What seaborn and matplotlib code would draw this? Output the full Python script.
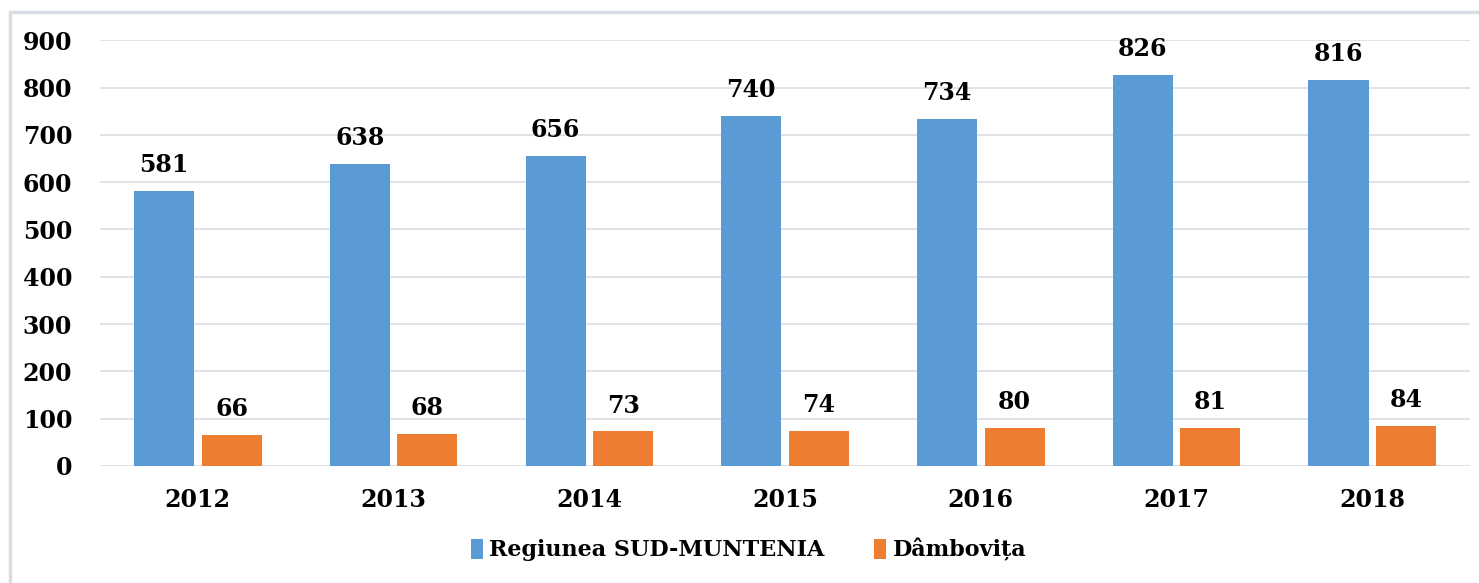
import pandas as pd
import numpy as np
import matplotlib.pyplot as plt
import seaborn as sns
from matplotlib.patches import Rectangle

# =====================================================
# DATA
# =====================================================

years = ["2012", "2013", "2014", "2015", "2016", "2017", "2018"]
sud_muntenia = [581, 638, 656, 740, 734, 826, 816]
dambovita = [66, 68, 73, 74, 80, 81, 84]
series_names = ["Regiunea SUD-MUNTENIA", "Dâmbovița"]

df = pd.DataFrame({
    "An": years * 2,
    "Valoare": sud_muntenia + dambovita,
    "Serie": [series_names[0]] * len(years) + [series_names[1]] * len(years),
})

# =====================================================
# STYLE
# =====================================================

sns.set_style("white")
plt.rcParams['font.family'] = ['DejaVu Serif']
plt.rcParams['font.weight'] = 'bold'
plt.rcParams['text.color'] = 'black'

colors = {series_names[0]: "#5B9BD5", series_names[1]: "#ED7D31"}

fig = plt.figure(figsize=(14.79, 5.83), dpi=100)
ax = fig.add_axes([0.0676, 0.2007, 0.9264, 0.7303])

sns.barplot(
    data=df, x="An", y="Valoare", hue="Serie",
    palette=colors, width=0.69, gap=0.11,
    saturation=1, linewidth=0, ax=ax, legend=True
)

ax.set_ylim(0, 900)
ax.set_yticks(range(0, 901, 100))
ax.set_xlim(-0.5, len(years) - 0.5)
ax.yaxis.grid(True, color="#D9DDE3", linewidth=1.2)
ax.set_axisbelow(True)
for s in ax.spines.values():
    s.set_visible(False)
ax.tick_params(axis="both", length=0, labelsize=17, colors="black")
ax.tick_params(axis="y", pad=20)
ax.tick_params(axis="x", pad=16)
ax.set_xlabel("")
ax.set_ylabel("")

# value labels
for cont in ax.containers:
    ax.bar_label(cont, fmt="%d", padding=10, fontsize=17,
                 fontweight="bold", color="black")

# legend at bottom
handles, labels = ax.get_legend_handles_labels()
ax.legend(
    handles, labels, loc="center", bbox_to_anchor=(0.506, 0.057),
    bbox_transform=fig.transFigure, ncol=2, frameon=False,
    fontsize=16, handlelength=0.55, handleheight=1.0,
    handletextpad=0.3, columnspacing=2.2
)

# outer border
fig.patches.append(Rectangle(
    (10 / 1479, -0.05), 1.1, 1.0 - 12 / 583 + 0.05,
    transform=fig.transFigure, fill=False,
    edgecolor="#D9DEE6", linewidth=2.5
))

fig.savefig("out.png", dpi=100)
plt.close()
